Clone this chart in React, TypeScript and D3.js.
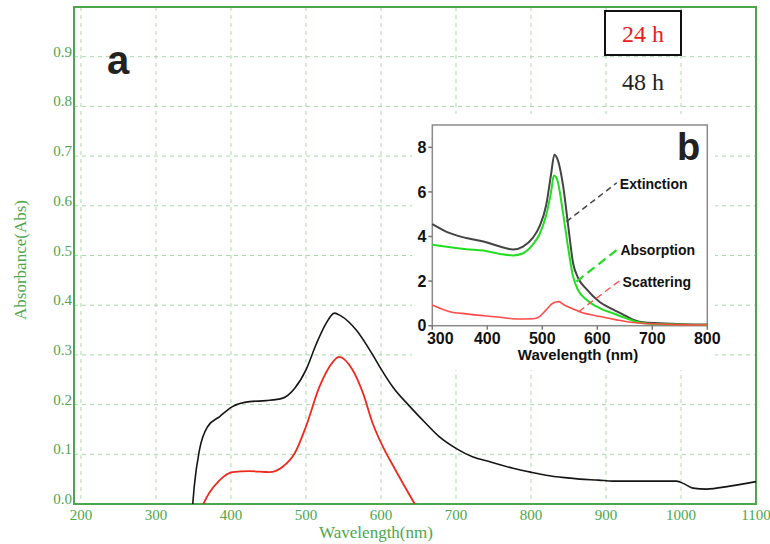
import * as d3 from "d3";

// main panel (a): absorbance vs wavelength
const h48Nm = [349, 351, 358, 369, 385, 402, 425, 447, 469, 485, 500, 514, 527, 538, 546, 567, 589, 600, 616, 638, 660, 678, 700, 722, 745, 776, 800, 820, 845, 865, 890, 909, 950, 994, 1005, 1016, 1034, 1065, 1100];
const h48Abs = [0, 0.035, 0.109, 0.156, 0.176, 0.196, 0.206, 0.208, 0.213, 0.233, 0.27, 0.323, 0.364, 0.384, 0.379, 0.35, 0.3, 0.272, 0.235, 0.197, 0.162, 0.135, 0.112, 0.095, 0.085, 0.072, 0.064, 0.058, 0.053, 0.05, 0.048, 0.046, 0.046, 0.046, 0.04, 0.032, 0.03, 0.036, 0.045];
const h24Nm = [363, 371, 385, 402, 425, 451, 469, 485, 500, 518, 536, 544, 562, 576, 589, 602, 618, 645];
const h24Abs = [0, 0.022, 0.048, 0.064, 0.066, 0.064, 0.075, 0.102, 0.156, 0.236, 0.286, 0.296, 0.27, 0.223, 0.162, 0.117, 0.072, 0];
const xTicks = [200, 300, 400, 500, 600, 700, 800, 900, 1000, 1100];
const yTicks = [0, 0.1, 0.2, 0.3, 0.4, 0.5, 0.6, 0.7, 0.8, 0.9];
const legendLabels = ["24 h", "48 h"];

// inset panel (b): calculated spectra
const extNm = [300, 332, 362, 393, 423, 447, 465, 483, 495, 507, 516, 522, 528, 538, 547, 556, 565, 580, 605, 629, 647, 665, 683, 713, 755, 800];
const extVal = [4.56, 4.15, 3.93, 3.78, 3.55, 3.42, 3.55, 3.95, 4.45, 5.4, 6.8, 7.67, 7.45, 6.25, 4.5, 2.8, 2.15, 1.65, 1.05, 0.72, 0.5, 0.27, 0.15, 0.11, 0.07, 0.05];
const absNm = [300, 362, 393, 423, 447, 465, 483, 495, 507, 516, 521, 527, 538, 547, 556, 565, 581, 605, 629, 653, 671, 689, 725, 800];
const absVal = [3.63, 3.43, 3.37, 3.22, 3.15, 3.25, 3.65, 4.1, 4.95, 6.0, 6.73, 6.55, 5.0, 3.5, 2.2, 1.6, 1.15, 0.78, 0.55, 0.33, 0.18, 0.1, 0.06, 0.03];
const scaNm = [300, 332, 362, 423, 453, 483, 495, 507, 519, 530, 540, 556, 568, 605, 635, 665, 725, 800];
const scaVal = [0.93, 0.63, 0.53, 0.38, 0.3, 0.31, 0.41, 0.71, 1.01, 1.08, 0.93, 0.75, 0.63, 0.41, 0.26, 0.14, 0.06, 0.03];
const insetXTicks = [300, 400, 500, 600, 700, 800];
const insetYTicks = [0, 2, 4, 6, 8];
const insetLabels = ["Extinction", "Absorption", "Scattering"];
const labelNm = [641, 642, 646];
const labelVal = [6.14, 3.15, 1.75];
const anchorNm = [544, 562, 566];
const anchorVal = [4.67, 1.98, 0.63];

const GREEN = "#4ca64c";
const GRID = "#a8d8a8";
const SERIF = "'Liberation Serif', 'Times New Roman', serif";
const SANS = "'Liberation Sans', Arial, sans-serif";

const zip = (xs: number[], ys: number[]) => xs.map((x, i) => [x, ys[i]] as [number, number]);

export default function App() {
  const x = d3.scaleLinear().domain([190.7, 1100]).range([74, 756]);
  const y = d3.scaleLinear().domain([0, 1]).range([504, 7]);
  const line = d3
    .line<[number, number]>()
    .x((d) => x(d[0]))
    .y((d) => y(d[1]))
    .curve(d3.curveMonotoneX);

  const ix = d3.scaleLinear().domain([300, 800]).range([432.3, 707.3]);
  const iy = d3.scaleLinear().domain([0, 9]).range([325.7, 125]);
  const iline = d3
    .line<[number, number]>()
    .x((d) => ix(d[0]))
    .y((d) => iy(d[1]))
    .curve(d3.curveMonotoneX);

  const insetColors = ["#444444", "#22dd22", "#ff4a4a"];
  const leaderDash = ["6,4", "9,5", "7,4"];
  const leaderWidth = [1.5, 2.2, 1.3];
  const insetSeries = [zip(extNm, extVal), zip(absNm, absVal), zip(scaNm, scaVal)];

  return (
    <svg
      width={770}
      height={544}
      style={{ position: "absolute", left: 0, top: 0, background: "#fff" }}
    >
      <rect width={770} height={544} fill="#fff" />

      {/* grid */}
      {xTicks.slice(0, -1).map((t) => (
        <line key={"gx" + t} x1={x(t)} x2={x(t)} y1={y(1)} y2={y(0)} stroke={GRID} strokeDasharray="4,4" />
      ))}
      {yTicks.map((t) => (
        <line key={"gy" + t} x1={x(190.7)} x2={x(1100)} y1={y(t)} y2={y(t)} stroke={GRID} strokeDasharray="4,4" />
      ))}

      {/* frame */}
      <rect x={74} y={7} width={682} height={497} fill="none" stroke={GREEN} strokeWidth={2} />

      {/* tick labels */}
      {yTicks.map((t) => (
        <text key={"ty" + t} x={72} y={y(t)} textAnchor="end" fontFamily={SERIF} fontSize={15} fill={GREEN}>
          {t.toFixed(1)}
        </text>
      ))}
      {xTicks.map((t) => (
        <text key={"tx" + t} x={x(t)} y={520} textAnchor="middle" fontFamily={SERIF} fontSize={15} fill={GREEN}>
          {t}
        </text>
      ))}
      <text x={376} y={538} textAnchor="middle" fontFamily={SERIF} fontSize={17} fill={GREEN}>
        Wavelength(nm)
      </text>
      <text
        transform="translate(26,260) rotate(-90)"
        textAnchor="middle"
        fontFamily={SERIF}
        fontSize={17}
        fill={GREEN}
      >
        Absorbance(Abs)
      </text>

      {/* series */}
      <path d={line(zip(h24Nm, h24Abs)) ?? ""} fill="none" stroke="#ee2a1e" strokeWidth={1.8} />
      <path d={line(zip(h48Nm, h48Abs)) ?? ""} fill="none" stroke="#151515" strokeWidth={1.6} />

      <text x={107} y={74} fontFamily={SANS} fontWeight="bold" fontSize={40} fill="#222">
        a
      </text>

      {/* legend */}
      <rect x={605} y={11} width={76} height={44} fill="#fff" stroke="#111" strokeWidth={2} />
      <text x={643} y={42} textAnchor="middle" fontFamily={SERIF} fontSize={24} fill="#e82020">
        {legendLabels[0]}
      </text>
      <text x={643} y={90} textAnchor="middle" fontFamily={SERIF} fontSize={24} fill="#222">
        {legendLabels[1]}
      </text>

      {/* inset */}
      <rect x={412} y={114} width={303} height={256} fill="#fff" />
      <rect
        x={ix(300)}
        y={iy(9)}
        width={ix(800) - ix(300)}
        height={iy(0) - iy(9)}
        fill="#fff"
        stroke="#8a8a8a"
        strokeWidth={1.5}
      />
      {insetYTicks.map((t) => (
        <g key={"iy" + t}>
          <line x1={ix(300) - 4} x2={ix(300)} y1={iy(t)} y2={iy(t)} stroke="#777" strokeWidth={1.5} />
          <text
            x={ix(300) - 6}
            y={iy(t)}
            dy="0.36em"
            textAnchor="end"
            fontFamily={SANS}
            fontWeight="bold"
            fontSize={16}
            fill="#111"
          >
            {t}
          </text>
        </g>
      ))}
      {insetXTicks.map((t, i) => (
        <g key={"ix" + t}>
          <line x1={ix(t)} x2={ix(t)} y1={iy(0)} y2={iy(0) + 4} stroke="#777" strokeWidth={1.5} />
          <text
            x={ix(t) + (i === 0 ? 8 : 0)}
            y={344}
            textAnchor="middle"
            fontFamily={SANS}
            fontWeight="bold"
            fontSize={16}
            fill="#111"
          >
            {t}
          </text>
        </g>
      ))}
      <text x={578} y={360} textAnchor="middle" fontFamily={SANS} fontWeight="bold" fontSize={15} fill="#111">
        Wavelength (nm)
      </text>
      {insetSeries.map((s, i) => (
        <path key={"is" + i} d={iline(s) ?? ""} fill="none" stroke={insetColors[i]} strokeWidth={i === 2 ? 1.6 : 2} />
      ))}
      {insetLabels.map((lab, i) => (
        <g key={lab}>
          <line
            x1={ix(anchorNm[i])}
            y1={iy(anchorVal[i])}
            x2={ix(labelNm[i]) - 3}
            y2={iy(labelVal[i]) - 6}
            stroke={insetColors[i]}
            strokeWidth={leaderWidth[i]}
            strokeDasharray={leaderDash[i]}
          />
          <text x={ix(labelNm[i])} y={iy(labelVal[i])} fontFamily={SANS} fontWeight="bold" fontSize={14} fill="#111">
            {lab}
          </text>
        </g>
      ))}
      <text x={677} y={160} fontFamily={SANS} fontWeight="bold" fontSize={38} fill="#222">
        b
      </text>
    </svg>
  );
}
